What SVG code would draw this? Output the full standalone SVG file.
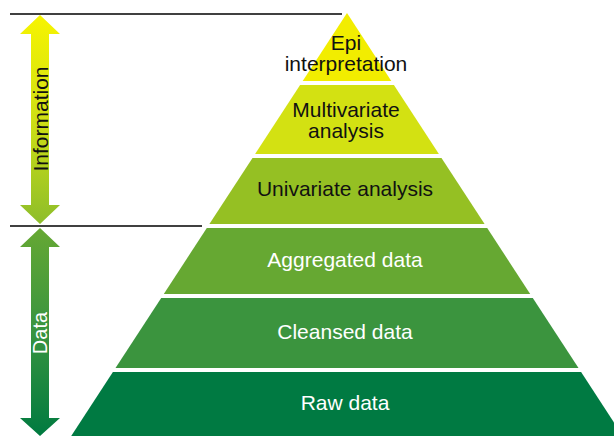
<svg xmlns="http://www.w3.org/2000/svg" width="614" height="436" viewBox="0 0 614 436">
<defs>
<linearGradient id="gInfo" x1="0" y1="15" x2="0" y2="224" gradientUnits="userSpaceOnUse">
<stop offset="0" stop-color="#f7f400"/>
<stop offset="0.5" stop-color="#cfe014"/>
<stop offset="1" stop-color="#8dbd2a"/>
</linearGradient>
<linearGradient id="gData" x1="0" y1="228" x2="0" y2="436" gradientUnits="userSpaceOnUse">
<stop offset="0" stop-color="#66a833"/>
<stop offset="0.5" stop-color="#389440"/>
<stop offset="1" stop-color="#007a40"/>
</linearGradient>
<style>
text{font-family:"Liberation Sans",Arial,sans-serif;font-size:21px;text-anchor:middle}
.dark{fill:#111}
.light{fill:#ffffff}
.rule{stroke:#000;stroke-width:1.3;fill:none}
</style>
</defs>
<rect width="614" height="436" fill="#fff"/>
<g id="rules">
<line class="rule" x1="10" y1="14" x2="342" y2="14"/>
<line class="rule" x1="10" y1="226" x2="202" y2="226"/>
</g>
<g id="arrow-information">
<path d="M40,15 L60,34 L49,34 L49,205 L60,205 L40,224 L20,205 L31,205 L31,34 L20,34 Z" fill="url(#gInfo)"/>
<text class="dark" transform="translate(47.5,119) rotate(-90)">Information</text>
</g>
<g id="arrow-data">
<path d="M40,228 L60,247 L49,247 L49,418 L60,418 L40,436 L20,418 L31,418 L31,247 L20,247 Z" fill="url(#gData)"/>
<text class="light" transform="translate(47,333) rotate(-90)" style="font-size:20px">Data</text>
</g>
<g id="layer-epi">
<polygon points="347,13 391.3,81 302.7,81" fill="#f2ed00"/>
<text class="dark" x="346" y="50">Epi</text>
<text class="dark" x="346" y="71">interpretation</text>
</g>
<g id="layer-multivariate">
<polygon points="300.1,85 393.9,85 438.9,154 255.1,154" fill="#d3e112"/>
<text class="dark" x="346" y="116.5">Multivariate</text>
<text class="dark" x="346" y="137.5">analysis</text>
</g>
<g id="layer-univariate">
<polygon points="252.5,158 441.5,158 484.6,224 209.4,224" fill="#95c023"/>
<text class="dark" x="345" y="196">Univariate analysis</text>
</g>
<g id="layer-aggregated">
<polygon points="206.8,228 487.2,228 530.2,294 163.8,294" fill="#66a832"/>
<text class="light" x="345" y="266.5">Aggregated data</text>
</g>
<g id="layer-cleansed">
<polygon points="161.2,298 532.8,298 578.5,368 115.5,368" fill="#3b943e"/>
<text class="light" x="345" y="339">Cleansed data</text>
</g>
<g id="layer-raw">
<polygon points="112.9,372 581.1,372 622.8,436 71.2,436" fill="#007a42"/>
<text class="light" x="345" y="410">Raw data</text>
</g>
</svg>
